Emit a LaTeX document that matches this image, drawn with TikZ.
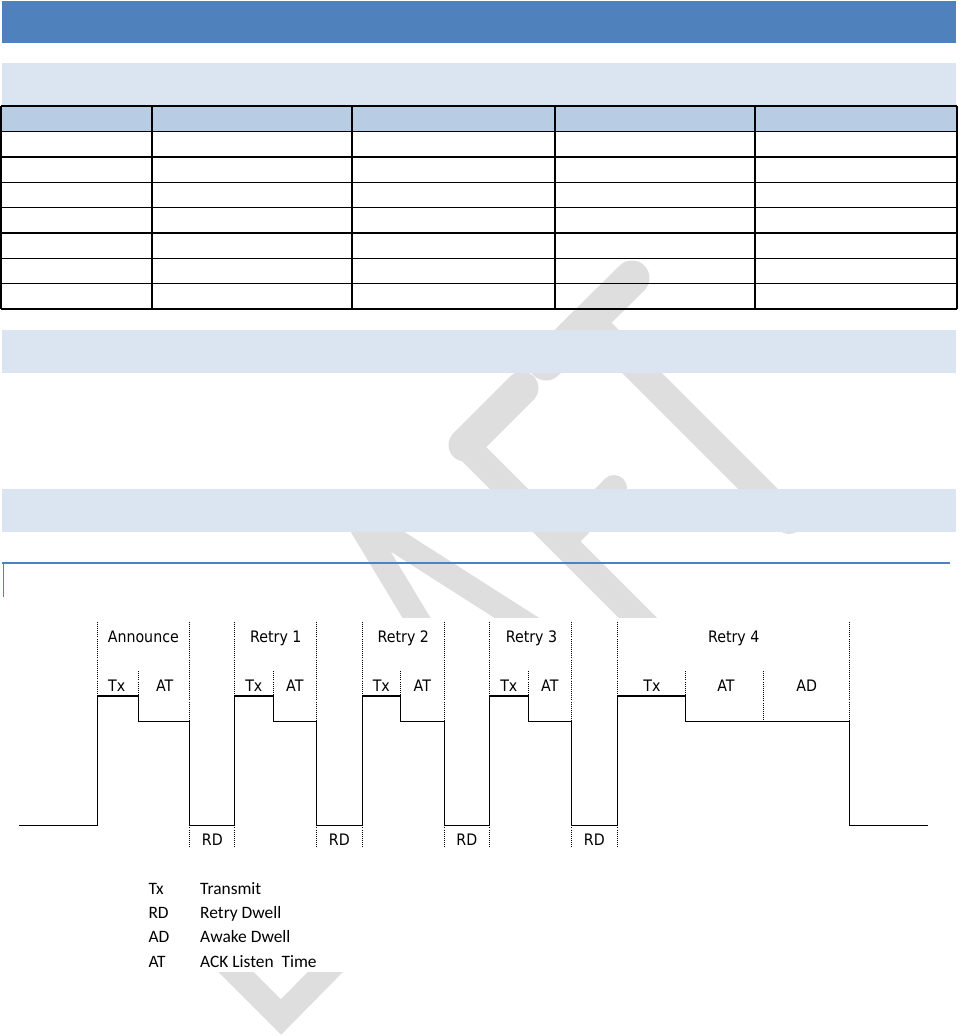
\documentclass[tikz,border=0pt]{standalone}
\usepackage{fontspec}
\setmainfont{Liberation Sans}
\newfontfamily\diagfont[FakeStretch=0.9]{DejaVu Sans}
\newfontfamily\legendfont{Carlito}
\definecolor{accent}{RGB}{79,129,189}
\definecolor{bandblue}{RGB}{219,229,241}
\definecolor{headblue}{RGB}{184,204,228}
\definecolor{wmgray}{RGB}{222,222,222}
\begin{document}
\begin{tikzpicture}[x=1pt,y=-1pt,
  wave/.style={line width=1.3pt, line join=miter, line cap=rect},
  guide/.style={line width=0.8pt, dash pattern=on 0.8pt off 1.3pt},
  lbl/.style={font=\diagfont\fontsize{15.8}{18}\selectfont, inner sep=0pt, anchor=base},
  legkey/.style={font=\legendfont\fontsize{17.4}{20}\selectfont, inner sep=0pt, anchor=base west},
  gridline/.style={line width=1.5pt},
  wmstroke/.style={draw=wmgray, line width=#1, line cap=round, line join=round},
  bandbox/.style={fill=bandblue, draw=none}]
\useasboundingbox (0,0) rectangle (959,1036);
\fill[white] (0,0) rectangle (959,1036);

% ---------- watermark (behind everything) ----------
\draw[wmstroke=35pt] (632,278) -- (546,363);          % T bar
\draw[wmstroke=28pt] (589,320) -- (789,520);          % T stem
\draw[wmstroke=33pt] (522,388) -- (465,445);          % F top bar
\draw[wmstroke=27pt] (465,445) -- (720,700);          % F stem
\draw[wmstroke=26pt] (562,542) -- (614,488);          % F middle bar
\draw[wmstroke=24pt] (425,632) -- (354,514) -- (567,650); % A legs
\draw[draw=wmgray, line width=25pt, line join=miter] (214,950) -- (281,1017) -- (347,950); % lower chevron

% white picture area covering the watermark
\fill[white] (0,618) rectangle (959,972);

% ---------- header bars ----------
\fill[accent] (2,1) rectangle (956,43);
\path[bandbox] (2,63) rectangle (956,106);
\path[bandbox] (2,330) rectangle (956,373);
\path[bandbox] (2,489) rectangle (956,532);

% ---------- table ----------
\fill[headblue] (1,106) rectangle (957,131.5);
\foreach \ry in {106,131.5,157,182.3,207.6,233,258.3,283.7,309}
  \draw[gridline] (1,\ry) -- (957,\ry);
\foreach \cx in {1,152,352,555,755,957}
  \draw[gridline] (\cx,106) -- (\cx,309);

% ---------- figure frame rule ----------
\draw[accent, line width=2.2pt] (2,563) -- (950,563);
\draw[accent, line width=1pt] (3,563) -- (3,597);

% ---------- timing diagram ----------
\def\wL{825.3}\def\wH{696}\def\wA{721.3}\def\wT{621.7}\def\wS{671}\def\wB{848.3}

\coordinate (start) at (20,\wL);
\coordinate (finish) at (927.7,\wL);

\draw[wave] (start) -- (97.3,\wL) -- (97.3,\wH) -- (138.3,\wH) -- (138.3,\wA) -- (189.3,\wA)
  -- (189.3,\wL) -- (234.3,\wL) -- (234.3,\wH) -- (273.3,\wH) -- (273.3,\wA) -- (316.3,\wA)
  -- (316.3,\wL) -- (362.3,\wL) -- (362.3,\wH) -- (400.3,\wH) -- (400.3,\wA) -- (444.3,\wA)
  -- (444.3,\wL) -- (489.3,\wL) -- (489.3,\wH) -- (528.3,\wH) -- (528.3,\wA) -- (571.3,\wA)
  -- (571.3,\wL) -- (617.3,\wL) -- (617.3,\wH) -- (685.3,\wH) -- (685.3,\wA) -- (849.3,\wA)
  -- (849.3,\wL) -- (finish);

% dotted guides: segment ends (down to AT level)
\foreach \gx in {189.3,316.3,444.3,571.3,849.3}
  \draw[guide] (\gx,\wT) -- (\gx,\wA);
% segment starts (down to Tx level)
\foreach \gx in {97.3,234.3,362.3,489.3,617.3}
  \draw[guide] (\gx,\wT) -- (\gx,\wH);
% retry-dwell guides below baseline
\foreach \gx in {189.3,234.3,316.3,362.3,444.3,489.3,571.3,617.3}
  \draw[guide] (\gx,\wL) -- (\gx,\wB);
% Tx / AT splits
\foreach \gx in {138.3,273.3,400.3,528.3,685.3}
  \draw[guide] (\gx,\wS) -- (\gx,\wH);
\draw[guide] (763.3,\wS) -- (763.3,\wA);

% group labels
\node[lbl] (ann) at (143.3,642.7) {Announce};
\node[lbl] (r1) at (275.8,642.7) {Retry 1};
\node[lbl] (r2) at (403.3,642.7) {Retry 2};
\node[lbl] (r3) at (531.5,642.7) {Retry 3};
\node[lbl] (r4) at (733.7,642.7) {Retry 4};

% phase labels
\node[lbl] (tx0) at (116.7,691.7) {Tx};
\node[lbl] (at0) at (164.7,691.7) {AT};
\node[lbl] (tx1) at (253.8,691.7) {Tx};
\node[lbl] (at1) at (294.8,691.7) {AT};
\node[lbl] (tx2) at (381.3,691.7) {Tx};
\node[lbl] (at2) at (422.3,691.7) {AT};
\node[lbl] (tx3) at (508.8,691.7) {Tx};
\node[lbl] (at3) at (549.8,691.7) {AT};
\node[lbl] (tx4) at (652,691.7) {Tx};
\node[lbl] (at4) at (726,691.7) {AT};
\node[lbl] (ad4) at (806.7,691.7) {AD};

% retry dwell labels
\node[lbl] (rd1) at (212.3,845.7) {RD};
\node[lbl] (rd2) at (339.3,845.7) {RD};
\node[lbl] (rd3) at (466.8,845.7) {RD};
\node[lbl] (rd4) at (594.3,845.7) {RD};

% legend
\node[legkey] (kTx) at (148.3,894.3) {Tx};
\node[legkey] (dTx) at (200,894.3) {Transmit};
\node[legkey] (kRD) at (148.3,918.6) {RD};
\node[legkey] (dRD) at (200,918.6) {Retry Dwell};
\node[legkey] (kAD) at (148.3,942.9) {AD};
\node[legkey] (dAD) at (200,942.9) {Awake Dwell};
\node[legkey] (kAT) at (148.3,967.2) {AT};
\node[legkey] (dAT) at (200,967.2) {ACK Listen\ \ Time};
\end{tikzpicture}
\end{document}
